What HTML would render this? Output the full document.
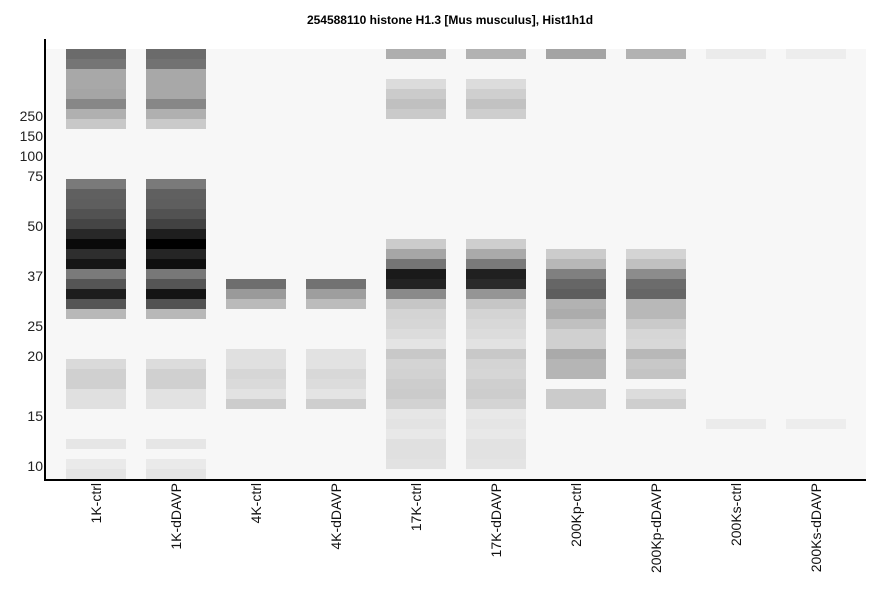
<!DOCTYPE html>
<html><head><style>body{margin:0;background:#fff}svg{display:block}</style></head>
<body>
<svg width="886" height="595" xmlns="http://www.w3.org/2000/svg" font-family="Liberation Sans, sans-serif">
<text x="450" y="24" text-anchor="middle" font-size="12" font-weight="bold" fill="#000">254588110 histone H1.3 [Mus musculus], Hist1h1d</text>
<rect x="46" y="49" width="820" height="430" fill="#f7f7f7"/>
<g id="bands"></g>
<g font-size="14" fill="#222" text-anchor="end">
<text x="43" y="121">250</text><text x="43" y="141">150</text><text x="43" y="161">100</text>
<text x="43" y="181">75</text><text x="43" y="231">50</text><text x="43" y="281">37</text>
<text x="43" y="331">25</text><text x="43" y="361">20</text><text x="43" y="421">15</text><text x="43" y="471">10</text>
</g>
<line x1="45" y1="39" x2="45" y2="481" stroke="#000" stroke-width="2"/>
<line x1="44" y1="480" x2="866" y2="480" stroke="#000" stroke-width="2"/>
<g font-size="14" fill="#111" text-anchor="end" id="xl"></g>
<script>
var L=[
{49:"6b6b6b",59:"757575",69:"a8a8a8",79:"a8a8a8",89:"a5a5a5",99:"878787",109:"b0b0b0",119:"c8c8c8",179:"7a7a7a",189:"606060",199:"5e5e5e",209:"525252",219:"454545",229:"282828",239:"0a0a0a",249:"2e2e2e",259:"151515",269:"7a7a7a",279:"555555",289:"1d1d1d",299:"555555",309:"b8b8b8",359:"dadada",369:"d0d0d0",379:"d0d0d0",389:"e0e0e0",399:"e0e0e0",439:"e6e6e6",459:"eaeaea",469:"e4e4e4"},
{49:"6b6b6b",59:"727272",69:"a8a8a8",79:"a8a8a8",89:"a8a8a8",99:"878787",109:"b0b0b0",119:"cacaca",179:"7a7a7a",189:"606060",199:"5e5e5e",209:"525252",219:"424242",229:"1e1e1e",239:"000000",249:"252525",259:"0f0f0f",269:"787878",279:"555555",289:"141414",299:"525252",309:"b8b8b8",359:"dcdcdc",369:"d0d0d0",379:"d0d0d0",389:"e2e2e2",399:"e2e2e2",439:"e6e6e6",459:"eaeaea",469:"e4e4e4"},
{279:"6e6e6e",289:"9a9a9a",299:"bababa",349:"e0e0e0",359:"e0e0e0",369:"d6d6d6",379:"dadada",389:"e2e2e2",399:"cccccc"},
{279:"727272",289:"9e9e9e",299:"bcbcbc",349:"e2e2e2",359:"e2e2e2",369:"d8d8d8",379:"dcdcdc",389:"e4e4e4",399:"cecece"},
{49:"aeaeae",79:"dcdcdc",89:"cbcbcb",99:"c0c0c0",109:"cacaca",239:"cccccc",249:"a6a6a6",259:"757575",269:"1a1a1a",279:"232323",289:"8a8a8a",299:"c6c6c6",309:"d4d4d4",319:"d6d6d6",329:"dcdcdc",339:"e4e4e4",349:"c8c8c8",359:"d4d4d4",369:"d2d2d2",379:"cdcdcd",389:"cbcbcb",399:"d2d2d2",409:"e6e6e6",419:"e3e3e3",429:"e8e8e8",439:"e0e0e0",449:"e0e0e0",459:"e2e2e2"},
{49:"b2b2b2",79:"dcdcdc",89:"cfcfcf",99:"c2c2c2",109:"cecece",239:"cecece",249:"aaaaaa",259:"7a7a7a",269:"202020",279:"2a2a2a",289:"959595",299:"c6c6c6",309:"d4d4d4",319:"d8d8d8",329:"dcdcdc",339:"e2e2e2",349:"c8c8c8",359:"d4d4d4",369:"d6d6d6",379:"cfcfcf",389:"cdcdcd",399:"d4d4d4",409:"e8e8e8",419:"e5e5e5",429:"e8e8e8",439:"e2e2e2",449:"e2e2e2",459:"e4e4e4"},
{49:"a4a4a4",249:"cccccc",259:"b7b7b7",269:"808080",279:"666666",289:"5e5e5e",299:"b2b2b2",309:"acacac",319:"c0c0c0",329:"d0d0d0",339:"d0d0d0",349:"aaaaaa",359:"b5b5b5",369:"b5b5b5",389:"cbcbcb",399:"cbcbcb"},
{49:"b2b2b2",249:"d4d4d4",259:"c0c0c0",269:"8c8c8c",279:"6c6c6c",289:"666666",299:"b8b8b8",309:"b8b8b8",319:"cacaca",329:"d6d6d6",339:"d8d8d8",349:"b8b8b8",359:"c8c8c8",369:"c4c4c4",389:"dcdcdc",399:"cecece"},
{49:"ebebeb",419:"ebebeb"},
{49:"ededed",419:"ededed"}];
var names=["1K-ctrl","1K-dDAVP","4K-ctrl","4K-dDAVP","17K-ctrl","17K-dDAVP","200Kp-ctrl","200Kp-dDAVP","200Ks-ctrl","200Ks-dDAVP"];
var ns="http://www.w3.org/2000/svg",g=document.getElementById("bands"),xl=document.getElementById("xl");
L.forEach(function(m,i){var x=66+80*i;for(var y in m){var r=document.createElementNS(ns,"rect");r.setAttribute("x",x);r.setAttribute("y",y);r.setAttribute("width",60);r.setAttribute("height",10);r.setAttribute("fill","#"+m[y]);g.appendChild(r);}
var t=document.createElementNS(ns,"text");var cx=x+35,cy=483;t.setAttribute("transform","translate("+cx+","+cy+") rotate(-90)");t.textContent=names[i];xl.appendChild(t);});
</script>
</svg>
</body></html>
